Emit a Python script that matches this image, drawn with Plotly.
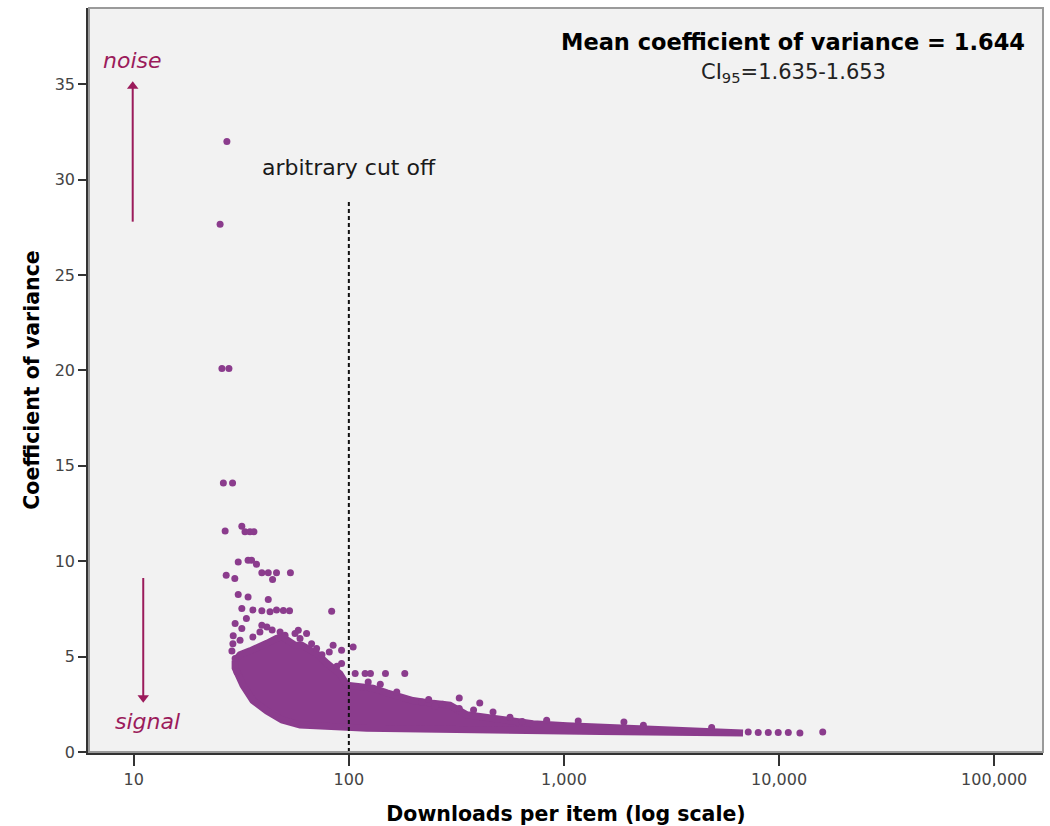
import plotly.graph_objects as go
import math

# ---- data ----
# dense cloud envelope (downloads, coefficient of variance)
cloud_upper_x = [29.6, 31.2, 34.7, 38.6, 41.6, 46.0, 48.9, 52.0, 56.2, 60.5, 65.9, 71.0, 79.1, 84.0, 90.9, 98, 110, 129.5, 150.3, 198.7, 246, 295, 354, 504, 718, 1033, 2093, 4290, 6796]
cloud_upper_y = [4.8, 5.1, 5.3, 5.5, 5.7, 5.95, 6.05, 5.85, 5.6, 5.6, 5.3, 5.15, 4.65, 4.4, 4.1, 3.5, 3.45, 3.35, 3.1, 2.7, 2.55, 2.45, 1.95, 1.7, 1.48, 1.37, 1.25, 1.16, 1.04]
cloud_lower_x = [6796, 1470, 504, 246, 121, 98, 59.3, 48.9, 41.6, 35.8, 32.2, 29.6]
cloud_lower_y = [1.0, 1.07, 1.12, 1.14, 1.25, 1.3, 1.42, 1.68, 2.15, 2.7, 3.5, 4.4]

# individual items outside / on the edge of the dense cloud
item_x = [27.1, 25.2, 25.7, 27.7, 26.1, 28.8,
          26.6, 31.8, 32.9, 34.7, 36.2, 30.6, 34.0, 35.3, 37.2, 26.9, 29.5,
          39.4, 42.2, 46.1, 44.2, 53.5, 30.6, 34.0, 42.2, 31.8,
          35.8, 39.4, 43.0, 46.1, 49.6, 53.0, 83.2, 58.2, 63.6,
          84.5, 104.7, 81.1, 92.5, 70.8, 92.5,
          107, 119, 126, 148, 182, 123, 167,
          326, 406, 218, 251, 273, 326, 1165, 1900,
          15960, 7190, 8000, 8910, 9910, 11040, 12500,
          468, 561, 831, 2340, 4860,
          47.9, 50.5, 38.6, 35.8, 31.2, 41.6, 39.4, 29.6, 31.8, 33.4, 28.9, 29.6,
          67.1, 59.3, 56.2, 28.6, 29.0, 30.2, 44.0, 75.0, 88.0, 140, 235, 380, 640]
item_y = [32.0, 27.66, 20.1, 20.1, 14.1, 14.1,
          11.59, 11.83, 11.55, 11.55, 11.55, 9.96, 10.05, 10.05, 9.84, 9.27, 9.09,
          9.39, 9.39, 9.39, 9.04, 9.39, 8.25, 8.13, 7.99, 7.52,
          7.45, 7.4, 7.35, 7.45, 7.42, 7.4, 7.38, 6.38, 6.21,
          5.6, 5.5, 5.24, 5.33, 5.42, 4.64,
          4.11, 4.11, 4.11, 4.11, 4.11, 3.67, 3.15,
          2.83, 2.57, 2.62, 2.40, 2.50, 2.28, 1.63, 1.57,
          1.05, 1.05, 1.02, 1.02, 1.02, 1.02, 1.0,
          2.1, 1.82, 1.66, 1.4, 1.28,
          6.29, 6.12, 6.29, 6.03, 5.86, 6.55, 6.64, 6.73, 6.47, 7.0, 5.68, 4.9,
          5.68, 5.95, 6.21, 5.3, 6.1, 4.2, 6.4, 5.1, 4.5, 3.55, 2.75, 2.2, 1.6]

cutoff_x = 100
cutoff_top = 28.9

x_tickvals = [10, 100, 1000, 10000, 100000]
x_ticktext = ["10", "100", "1,000", "10,000", "100,000"]
y_tickvals = [0, 5, 10, 15, 20, 25, 30, 35]

# arrows (x position, tail y, head y)
noise_arrow = dict(x=9.89, y0=27.8, y1=34.9)
signal_arrow = dict(x=11.07, y0=9.12, y1=2.85)

PURPLE = "#8b3c8d"
MAROON = "#9b1b5b"
FONT = "DejaVu Sans"

fig = go.Figure()

# dense cloud as filled envelope
fig.add_trace(go.Scatter(
    x=cloud_upper_x + cloud_lower_x + [cloud_upper_x[0]],
    y=cloud_upper_y + cloud_lower_y + [cloud_upper_y[0]],
    mode="lines", fill="toself", fillcolor=PURPLE,
    line=dict(color=PURPLE, width=7),
    hoverinfo="skip", showlegend=False))

fig.add_trace(go.Scatter(
    x=item_x, y=item_y, mode="markers",
    marker=dict(color=PURPLE, size=7, line=dict(width=0)),
    showlegend=False))

# arbitrary cut off line
fig.add_trace(go.Scatter(
    x=[cutoff_x, cutoff_x], y=[0, cutoff_top], mode="lines",
    line=dict(color="#111111", width=2, dash="4px,3px"),
    hoverinfo="skip", showlegend=False))

# noise / signal arrows
for arr, sym in [(noise_arrow, "triangle-up"), (signal_arrow, "triangle-down")]:
    fig.add_trace(go.Scatter(
        x=[arr["x"], arr["x"]], y=[arr["y0"], arr["y1"]], mode="lines",
        line=dict(color=MAROON, width=2), hoverinfo="skip", showlegend=False))
    fig.add_trace(go.Scatter(
        x=[arr["x"]], y=[arr["y1"]], mode="markers",
        marker=dict(symbol=sym, size=10, color=MAROON, line=dict(width=0)),
        hoverinfo="skip", showlegend=False))

annotations = [
    dict(text="<b>Mean coefficient of variance = 1.644</b>", xref="paper", yref="paper",
         x=0.983, y=0.954, xanchor="right", yanchor="middle", showarrow=False,
         font=dict(family=FONT, size=22.5, color="#000000")),
    dict(text="CI<sub>95</sub>=1.635-1.653", xref="paper", yref="paper",
         x=0.738, y=0.9126, xanchor="center", yanchor="middle", showarrow=False,
         font=dict(family=FONT, size=21, color="#222222")),
    dict(text="arbitrary cut off", xref="x", yref="y", x=math.log10(cutoff_x), y=30.66,
         xanchor="center", yanchor="middle", showarrow=False,
         font=dict(family=FONT, size=22, color="#1a1a1a")),
    dict(text="<i>noise</i>", xref="x", yref="y", x=0.992, y=36.27,
         xanchor="center", yanchor="middle", showarrow=False,
         font=dict(family=FONT, size=22, color=MAROON)),
    dict(text="<i>signal</i>", xref="x", yref="y", x=1.066, y=1.61,
         xanchor="center", yanchor="middle", showarrow=False,
         font=dict(family=FONT, size=22, color=MAROON)),
]

fig.update_layout(
    width=1050, height=826,
    margin=dict(l=89, r=7, t=8, b=74),
    paper_bgcolor="white", plot_bgcolor="#f2f2f2",
    font=dict(family=FONT, color="#444444"),
    showlegend=False,
    annotations=annotations,
    shapes=[dict(type="rect", xref="paper", yref="paper", x0=0, y0=0, x1=1, y1=1,
                 line=dict(color="#9a9a9a", width=2), layer="above")],
)

fig.update_xaxes(type="log", range=[0.792, 5.227], tickvals=x_tickvals, ticktext=x_ticktext,
                 ticks="outside", ticklen=11, tickwidth=2, tickcolor="#333333",
                 showline=True, linecolor="#333333", linewidth=2.5,
                 showgrid=False, zeroline=False, automargin=False,
                 title=dict(text="<b>Downloads per item (log scale)</b>", standoff=21,
                            font=dict(family=FONT, size=20.5, color="#000000")),
                 tickfont=dict(family=FONT, size=16, color="#444444"))
fig.update_yaxes(range=[0, 39], tickvals=y_tickvals,
                 ticks="outside", ticklen=8, tickwidth=2, tickcolor="#333333",
                 showline=True, linecolor="#333333", linewidth=2.5,
                 showgrid=False, zeroline=False, automargin=False,
                 title=dict(text="<b>Coefficient of variance</b>", standoff=10,
                            font=dict(family=FONT, size=20.5, color="#000000")),
                 tickfont=dict(family=FONT, size=16, color="#444444"))

fig.write_html("out.html", config={"displayModeBar": False},
               post_script="document.body.style.margin='0';document.body.style.overflow='hidden';")
